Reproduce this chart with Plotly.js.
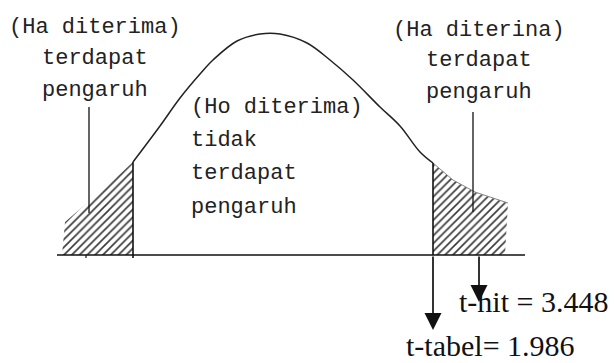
<!DOCTYPE html>
<html><head><meta charset="utf-8">
<script src="https://cdn.plot.ly/plotly-3.0.1.min.js"></script>
<style>html,body{margin:0;padding:0;background:#fff}#chart{width:614px;height:363px}</style>
</head><body><div id="chart"></div>
<script>
// Curve (x, height above baseline)
const curveX = [65, 100, 133, 160, 180, 200, 213, 237, 260, 280, 307, 330, 353, 380, 400, 420, 433, 453, 475, 508];
const curveY = [33, 63, 93, 129, 157, 181, 195, 214, 221, 221, 212, 195, 175, 148, 129, 103, 92, 75, 63, 52];
const leftCritX = 133;
const tTabelX = 433;
const tHitX = 479;
const leftLabel = ["(Ha diterima)", "terdapat", "pengaruh"];
const midLabel = ["(Ho diterima)", "tidak", "terdapat", "pengaruh"];
const rightLabel = ["(Ha diterina)", "terdapat", "pengaruh"];
const tHitText = "t-hit = 3.448";
const tTabelText = "t-tabel= 1.986";

function yAt(x){
  for(let i=0;i<curveX.length-1;i++){
    if(x>=curveX[i]&&x<=curveX[i+1]){
      const t=(x-curveX[i])/(curveX[i+1]-curveX[i]);
      return curveY[i]+t*(curveY[i+1]-curveY[i]);
    }
  }
  return 0;
}
const lx=[],ly=[],rx=[],ry=[],mx=[],my=[];
curveX.forEach((x,i)=>{
  if(x<=leftCritX){lx.push(x);ly.push(curveY[i]);}
  if(x>=tTabelX){rx.push(x);ry.push(curveY[i]);}
  if(x>=leftCritX&&x<=tTabelX){mx.push(x);my.push(curveY[i]);}
});
const leftPoly={x:[62].concat(lx,[leftCritX,62]),y:[0].concat(ly,[0,0])};
const rightPoly={x:[tTabelX].concat(rx,[505,tTabelX]),y:[0].concat(ry,[0,0])};
const pat={shape:'/',fgcolor:'#3a3a3a',bgcolor:'#fff',size:5.5,solidity:0.3};
const traces=[
  {x:leftPoly.x,y:leftPoly.y,mode:'lines',fill:'toself',fillcolor:'#fff',fillpattern:pat,line:{width:0},hoverinfo:'skip'},
  {x:rightPoly.x,y:rightPoly.y,mode:'lines',fill:'toself',fillcolor:'#fff',fillpattern:pat,line:{width:0},hoverinfo:'skip'},
  {x:rx,y:ry,mode:'lines',line:{color:'#888',width:1},hoverinfo:'skip'},
  {x:mx,y:my,mode:'lines',line:{color:'#222',width:1.5,shape:'spline'},hoverinfo:'skip'}
];
const blk='#111';
const shapes=[
  {type:'line',x0:57,x1:525,y0:0,y1:0,line:{color:blk,width:1.6}},
  {type:'line',x0:leftCritX,x1:leftCritX,y0:-3,y1:yAt(leftCritX),line:{color:blk,width:1.6}},
  {type:'line',x0:tTabelX,x1:tTabelX,y0:0,y1:yAt(tTabelX),line:{color:blk,width:1.6}},
  {type:'line',x0:86,x1:86,y0:-3,y1:0,line:{color:blk,width:1.2}},
  {type:'line',x0:89,x1:89,y0:42,y1:148,line:{color:blk,width:1.3}},
  {type:'line',x0:473,x1:473,y0:43,y1:143,line:{color:blk,width:1.3}}
];
const mono={family:'Liberation Mono, DejaVu Sans Mono, monospace',size:22,color:'#222'};
const serif={family:'Liberation Serif, DejaVu Serif, serif',size:30,color:'#111'};
const ann=[];
const leftY=[228,197,165];
leftLabel.forEach((t,i)=>ann.push({x:95,y:leftY[i],text:t,showarrow:false,font:mono,xanchor:'center',yanchor:'middle'}));
const midY=[148,115,82,48];
midLabel.forEach((t,i)=>ann.push({x:189,y:midY[i],text:t,showarrow:false,font:mono,xanchor:'left',yanchor:'middle'}));
const rightY=[225,195,163];
rightLabel.forEach((t,i)=>ann.push({x:479,y:rightY[i],text:t,showarrow:false,font:mono,xanchor:'center',yanchor:'middle'}));
ann.push({x:tTabelX,y:-75,ax:tTabelX,ay:0,axref:'x',ayref:'y',xref:'x',yref:'y',text:'',showarrow:true,arrowhead:2,arrowsize:2,arrowwidth:1.7,arrowcolor:blk});
ann.push({x:tHitX,y:-47,ax:tHitX,ay:0,axref:'x',ayref:'y',xref:'x',yref:'y',text:'',showarrow:true,arrowhead:2,arrowsize:2,arrowwidth:1.7,arrowcolor:blk});
ann.push({x:457,y:-46,text:tHitText,showarrow:false,font:serif,xanchor:'left',yanchor:'middle'});
ann.push({x:404,y:-90,text:tTabelText,showarrow:false,font:serif,xanchor:'left',yanchor:'middle'});
const layout={width:614,height:363,margin:{l:0,r:0,t:0,b:0},paper_bgcolor:'#fff',plot_bgcolor:'#fff',showlegend:false,
  xaxis:{range:[0,614],visible:false,fixedrange:true},
  yaxis:{range:[-108,255],visible:false,fixedrange:true},
  shapes:shapes,annotations:ann};
Plotly.newPlot('chart',traces,layout,{staticPlot:true});
</script></body></html>
